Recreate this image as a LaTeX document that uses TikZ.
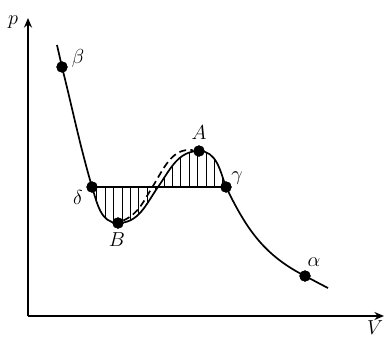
\documentclass[tikz,border=0pt]{standalone}
\usepackage{amsmath}
\usepackage{tikz}
\usetikzlibrary{arrows.meta,calc,positioning}

\begin{document}
\begin{tikzpicture}[
  x=1cm,
  y=1cm,
  axis/.style={-{Stealth[length=2.4mm,width=2mm]}, line width=1.2pt, draw=black},
  curve/.style={line width=1.2pt, draw=black},
  dashcurve/.style={line width=1.2pt, draw=black, dash pattern=on 5pt off 3pt},
  hatch/.style={line width=0.5pt, draw=black},
  dot/.style={circle, fill=black, inner sep=0pt, minimum size=0.28cm},
  lbl/.style={inner sep=0pt, font=\Large}
]
\useasboundingbox (-0.7,-0.55) rectangle (8.925,7.9);

% axes
\coordinate (O)    at (0,0);
\coordinate (pend) at (0,7.45);
\coordinate (Vend) at (8.9,0);
\draw[axis] (O) -- (pend);
\draw[axis] (O) -- (Vend);
\node[lbl] (plbl) at (-0.375,7.35) {$p$};
\node[lbl] (Vlbl) at (8.675,-0.3)  {$V$};

% points on the isotherm
\coordinate (start)  at (0.725,6.775);
\coordinate (cross)  at (3.25,3.225);
\coordinate (dcross) at (3.11,3.225);
\coordinate (stop)   at (7.5,0.7);
\node[dot] (beta)  at (0.85,6.225)  {};
\node[dot] (delta) at (1.6,3.225)   {};
\node[dot] (B)     at (2.25,2.325)  {};
\node[dot] (A)     at (4.275,4.125) {};
\node[dot] (gamma) at (4.95,3.225)  {};
\node[dot] (alpha) at (6.925,1.0)   {};

% hatching between the curve and the straight line
\begin{scope}
  \clip (delta.center) to[out=-72,in=180] (B.center) to[out=0,in=235] (cross)
        to[out=55,in=180] (A.center) to[out=0,in=110] (gamma.center) -- cycle;
  \foreach \x in {1.72,1.93,...,4.95}
    \draw[hatch] (\x,2) -- (\x,4.4);
\end{scope}

\draw[curve] (start) -- (beta.center) to[out=-76,in=106] (delta.center)
  to[out=-72,in=180] (B.center) to[out=0,in=235] (cross)
  to[out=55,in=180] (A.center) to[out=0,in=110] (gamma.center)
  to[out=-64,in=153] (alpha.center) to[out=-27,in=153] (stop);
\draw[curve] (delta.center) -- (gamma.center);
\draw[dashcurve] (B) to[out=25,in=238] (dcross) to[out=58,in=172] (A);

\node[dot] at (beta)  {};
\node[dot] at (delta) {};
\node[dot] at (B)     {};
\node[dot] at (A)     {};
\node[dot] at (gamma) {};
\node[dot] at (alpha) {};

\node[lbl] (betalbl)  at (1.25,6.45)  {$\beta$};
\node[lbl] (deltalbl) at (1.25,2.975) {$\delta$};
\node[lbl] (Blbl)     at (2.225,1.9)  {$B$};
\node[lbl] (Albl)     at (4.275,4.575) {$A$};
\node[lbl] (gammalbl) at (5.225,3.45) {$\gamma$};
\node[lbl] (alphalbl) at (7.15,1.35)  {$\alpha$};
\end{tikzpicture}
\end{document}
